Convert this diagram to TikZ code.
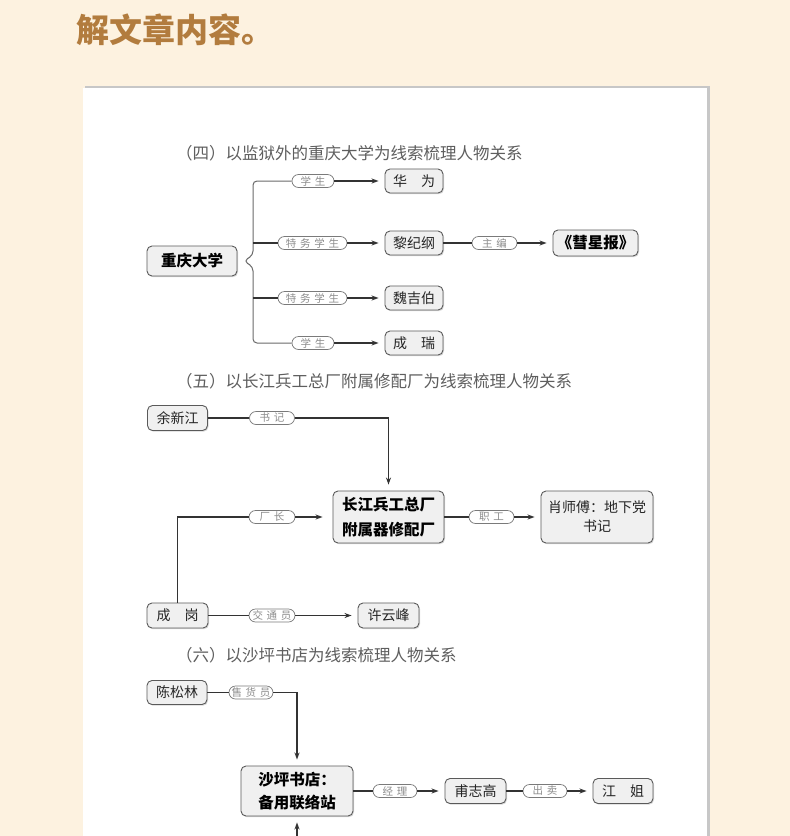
\documentclass[tikz,border=0pt]{standalone}
\usepackage{fontspec}
\newfontfamily\cjk{Noto Sans CJK SC}
\newfontfamily\cjkpill{Noto Sans CJK SC}[LetterSpace=35]
\usetikzlibrary{arrows.meta,shadows,calc}
\definecolor{bgcream}{HTML}{FDF2E0}
\definecolor{titlebrown}{HTML}{B27C3E}
\definecolor{boxfill}{HTML}{F0F0F0}
\definecolor{boxline}{HTML}{5A5A5A}
\definecolor{pillline}{HTML}{7A7A7A}
\definecolor{pilltext}{HTML}{8C8C8C}
\definecolor{linecol}{HTML}{333333}
\definecolor{bracecol}{HTML}{6A6A6A}
\definecolor{secgray}{HTML}{5E5E5E}
\tikzset{
 namebox/.style={draw=boxline, fill=boxfill, rounded corners=5pt, line width=0.9pt,
   minimum height=24pt, minimum width=58pt, inner sep=0pt, align=center,
   font=\cjk\fontsize{14}{19}\selectfont, text=black!85,
   drop shadow={shadow xshift=1pt, shadow yshift=-1.2pt, fill=black!30, opacity=0.5}},
 mainbox/.style={namebox, font=\cjk\bfseries\fontsize{15.5}{25}\selectfont, text=black},
 pill/.style={draw=pillline, fill=white, rounded corners=6.5pt, line width=0.7pt,
   minimum height=13pt, inner sep=0pt, font=\cjkpill\fontsize{10.5}{12}\selectfont, text=pilltext},
 conn/.style={draw=linecol, line width=1.1pt},
 arr/.style={conn, -{Stealth[length=7pt,width=5pt]}, shorten >=6pt},
 sectitle/.style={anchor=west, inner sep=0pt, font=\cjk\fontsize{16.5}{18}\selectfont, text=secgray},
}
\begin{document}
\begin{tikzpicture}[x=1pt,y=-1pt]
\useasboundingbox (0,0) rectangle (790,836);
\fill[bgcream] (0,0) rectangle (790,836);
\fill[black!22] (85,86) rectangle (710,845);
\fill[white] (83,88) rectangle (707,845);

\node[anchor=west, inner sep=0pt, font=\cjk\bfseries\fontsize{33}{36}\selectfont, text=titlebrown] (title) at (76,30) {解文章内容。};

% ---------- (四) ----------
\node[sectitle] (t4) at (176,153) {（四）以监狱外的重庆大学为线索梳理人物关系};
\node[mainbox, minimum width=90pt, minimum height=30pt] (cq) at (192,261) {重庆大学};
\node[namebox] (hw) at (414,181) {华\hspace{14pt}为};
\node[namebox] (lj) at (414,243) {黎纪纲};
\node[namebox] (wj) at (414,298) {魏吉伯};
\node[namebox] (cr) at (414,343) {成\hspace{14pt}瑞};
\node[mainbox, minimum width=85pt, minimum height=26pt] (hx) at (595.5,243) {《彗星报》};
\node[pill, minimum width=42pt] (p41) at (313,181) {学生};
\node[pill, minimum width=69pt] (p42) at (312.5,243) {特务学生};
\node[pill, minimum width=69pt] (p43) at (312.5,298) {特务学生};
\node[pill, minimum width=42pt] (p44) at (313,343) {学生};
\node[pill, minimum width=45pt] (p45) at (494.5,243) {主编};

\coordinate (bt) at (253,181);
\coordinate (bu) at (253,255);
\coordinate (btip) at (244,261);
\coordinate (bl) at (253,267);
\coordinate (bb) at (253,343);
\coordinate (b2) at (253,243);
\coordinate (b3) at (253,298);
\draw[conn, draw=bracecol, line width=1pt, rounded corners=4pt] (p41.west) -- (bt) -- (bu) -- (btip) -- (bl) -- (bb) -- (p44.west);
\draw[conn] (b2) -- (p42.west);
\draw[conn] (b3) -- (p43.west);
\draw[arr] (p41.east) -- (hw.west);
\draw[arr] (p42.east) -- (lj.west);
\draw[arr] (p43.east) -- (wj.west);
\draw[arr] (p44.east) -- (cr.west);
\draw[conn] (lj.east) -- (p45.west);
\draw[arr] (p45.east) -- (hx.west);

% ---------- (五) ----------
\node[sectitle] (t5) at (176,381) {（五）以长江兵工总厂附属修配厂为线索梳理人物关系};
\node[namebox, minimum width=60pt, minimum height=25pt] (yxj) at (177.5,418) {余新江};
\node[pill, minimum width=45pt] (p51) at (272,418) {书记};
\coordinate (c51) at (388.5,418);
\node[mainbox, minimum width=111pt, minimum height=52pt] (cj) at (388.5,517) {长江兵工总厂\\附属器修配厂};
\node[pill, minimum width=45pt] (p52) at (491.5,517) {职工};
\node[namebox, minimum width=112pt, minimum height=52pt] (xsf) at (597,517) {肖师傅：地下党\\书记};
\node[namebox, minimum width=61pt, minimum height=25pt] (cg) at (177.5,615.5) {成\hspace{14pt}岗};
\node[pill, minimum width=46pt] (p53) at (272,517) {厂长};
\node[pill, minimum width=46pt] (p54) at (272,615.5) {交通员};
\node[namebox, minimum width=61pt, minimum height=25pt] (xyf) at (388.5,615.5) {许云峰};
\draw[conn] (yxj.east) -- (p51.west);
\draw[arr] (p51.east) -- (c51) -- (cj.north);
\draw[conn] (cg.north) |- (p53.west);
\draw[arr, shorten >=10pt] (p53.east) -- (cj.west);
\draw[conn] (cj.east) -- (p52.west);
\draw[arr] (p52.east) -- (xsf.west);
\draw[conn] (cg.east) -- (p54.west);
\draw[arr] (p54.east) -- (xyf.west);

% ---------- (六) ----------
\node[sectitle] (t6) at (176,655) {（六）以沙坪书店为线索梳理人物关系};
\node[namebox, minimum width=60pt] (csl) at (177,692.5) {陈松林};
\node[pill, minimum width=44pt] (p61) at (251,692.5) {售货员};
\coordinate (c61) at (297,692.5);
\node[mainbox, minimum width=112pt, minimum height=50pt, font=\cjk\bfseries\fontsize{15.5}{23}\selectfont] (sp) at (297,791) {沙坪书店：\\备用联络站};
\node[pill, minimum width=44pt] (p62) at (395,791) {经理};
\node[namebox, minimum width=61pt, minimum height=25pt] (fzg) at (475.5,791) {甫志高};
\node[pill, minimum width=44pt] (p63) at (545,791) {出卖};
\node[namebox, minimum width=60pt, minimum height=25pt] (jj) at (623,791) {江\hspace{14pt}姐};
\coordinate (c62) at (297,860);
\draw[conn, line width=1.6pt] (csl.east) -- (p61.west);
\draw[arr, line width=1.4pt] (p61.east) -- (c61) -- (sp.north);
\draw[arr] (c62) -- (sp.south);
\draw[conn] (sp.east) -- (p62.west);
\draw[arr] (p62.east) -- (fzg.west);
\draw[conn] (fzg.east) -- (p63.west);
\draw[arr] (p63.east) -- (jj.west);
\end{tikzpicture}
\end{document}
